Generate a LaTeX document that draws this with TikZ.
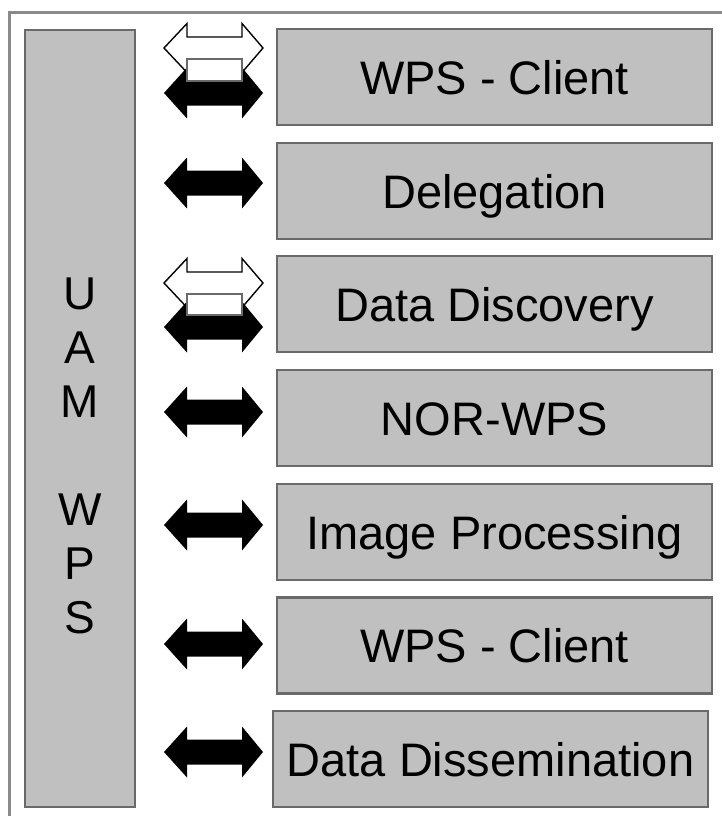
\documentclass[tikz,border=0pt]{standalone}
\usepackage{fontspec}
\setmainfont{Liberation Sans}
\definecolor{boxfill}{HTML}{C0C0C0}
\definecolor{boxline}{HTML}{6A6A6A}
\definecolor{frameline}{HTML}{8A8A8A}
\newcommand\blackdblarrow[1]{%
  \fill[black] (164,#1) -- (187,#1-25.5) -- (187,#1-12.5) -- (242,#1-12.5) -- (242,#1-25.5) -- (263,#1)
    -- (242,#1+25.5) -- (242,#1+12.5) -- (187,#1+12.5) -- (187,#1+25.5) -- cycle;}
\newcommand\whitedblarrow[1]{%
  \filldraw[fill=white,draw=black,line width=1.4pt,line join=miter] (164,#1) -- (187,#1-24.5) -- (187,#1-11) -- (242,#1-11) -- (242,#1-24.5) -- (263,#1)
    -- (242,#1+24.5) -- (242,#1+11) -- (187,#1+11) -- (187,#1+24.5) -- cycle;}
\begin{document}
\begin{tikzpicture}[x=1pt,y=-1pt,
  box/.style={draw=boxline,line width=2.6pt,fill=boxfill,inner sep=0pt,
    minimum width=435pt,minimum height=96pt,text height=34pt,text depth=0pt,
    font=\fontsize{47}{54}\selectfont},
  gap/.style={draw=boxline,line width=2pt,fill=white}]
\useasboundingbox (0,0) rectangle (721,816);
% outer frame (cut at right and bottom)
\draw[frameline,line width=3pt] (9,820) -- (9,13) -- (725,13);
% UAM WPS column
\node[draw=boxline,line width=2.6pt,fill=boxfill,minimum width=110pt,minimum height=777pt,inner sep=0pt] (uam) at (80,418.5) {};
\node[anchor=north,align=center,inner sep=0pt,font=\fontsize{46}{54}\selectfont] (uamtext) at (80,278) {U\\A\\M\\~\\W\\P\\S};
% service boxes
\node[box] (client1) at (494.5,77) {WPS - Client};
\node[box] (deleg) at (494.5,191) {Delegation};
\node[box] (discovery) at (494.5,304) {Data Discovery};
\node[box] (norwps) at (494.5,418) {NOR-WPS};
\node[box] (imgproc) at (494.5,532) {Image Processing};
\node[box] (client2) at (494.5,645.5) {WPS - Client};
\node[box] (dissem) at (490.5,759) {Data Dissemination};
% arrows
\whitedblarrow{48}
\blackdblarrow{93}
\path[gap] (187,59) rectangle (242,80.5);
\blackdblarrow{183}
\whitedblarrow{283}
\blackdblarrow{327}
\path[gap] (187,294) rectangle (242,314.5);
\blackdblarrow{412}
\blackdblarrow{525}
\blackdblarrow{644}
\blackdblarrow{752}
\end{tikzpicture}
\end{document}
